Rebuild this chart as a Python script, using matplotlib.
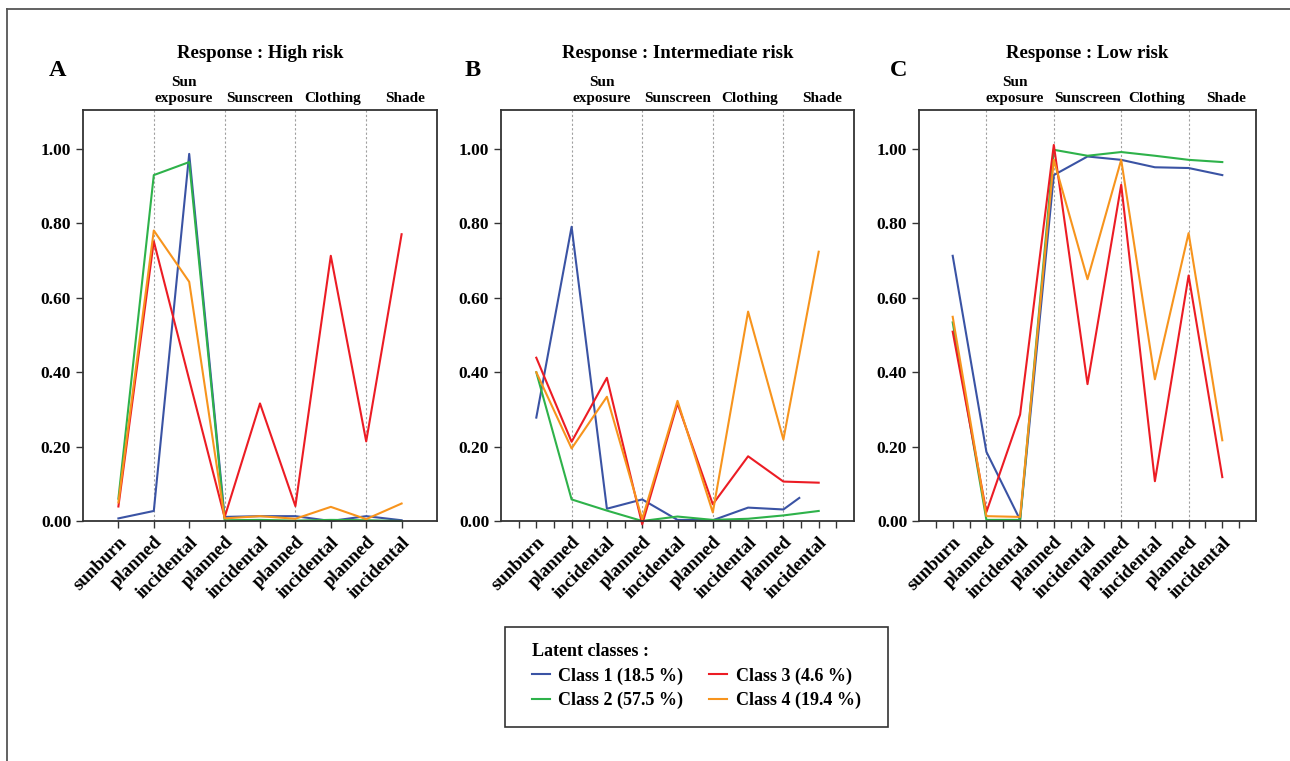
import matplotlib.pyplot as plt
from matplotlib.lines import Line2D
from matplotlib.patches import Rectangle
from matplotlib import transforms

plt.rcParams['font.family'] = ['Liberation Serif', 'DejaVu Serif']
plt.rcParams['font.weight'] = 'bold'

# categories along the x axis
categories = ['sunburn', 'planned', 'incidental', 'planned', 'incidental',
              'planned', 'incidental', 'planned', 'incidental']
groups = ['Sun\nexposure', 'Sunscreen', 'Clothing', 'Shade']
group_pos = [1.85, 4.0, 6.05, 8.1]
group_lines = [1, 3, 5, 7]

panels = ['A', 'B', 'C']
titles = ['Response : High risk', 'Response : Intermediate risk', 'Response : Low risk']

class_names = ['Class 1 (18.5 %)', 'Class 2 (57.5 %)', 'Class 3 (4.6 %)', 'Class 4 (19.4 %)']
colors = ['#3a53a4', '#2eb24a', '#ec1c24', '#f7941d']

# probabilities, one list per class, per panel
high_c1 = [0.007, 0.027, 0.987, 0.011, 0.013, 0.013, 0.0, 0.013, 0.002]
high_c2 = [0.06, 0.93, 0.965, 0.002, 0.003, 0.001, 0.003, 0.002, 0.0]
high_c3 = [0.039, 0.752, 0.38, 0.01, 0.316, 0.04, 0.713, 0.214, 0.771]
high_c4 = [0.05, 0.781, 0.643, 0.007, 0.013, 0.006, 0.038, 0.005, 0.047]

inter_c1 = [0.278, 0.791, 0.033, 0.058, 0.003, 0.002, 0.036, 0.031, 0.062]
inter_c2 = [0.40, 0.058, 0.028, 0.0, 0.012, 0.003, 0.006, 0.015, 0.027]
inter_c3 = [0.439, 0.213, 0.385, -0.009, 0.316, 0.045, 0.174, 0.106, 0.103]
inter_c4 = [0.40, 0.195, 0.334, 0.005, 0.323, 0.023, 0.563, 0.219, 0.724]

low_c1 = [0.713, 0.186, 0.003, 0.93, 0.98, 0.971, 0.951, 0.949, 0.93]
low_c2 = [0.534, 0.003, 0.003, 0.998, 0.982, 0.992, 0.982, 0.971, 0.965]
low_c3 = [0.509, 0.024, 0.286, 1.011, 0.368, 0.904, 0.107, 0.66, 0.118]
low_c4 = [0.549, 0.013, 0.011, 0.971, 0.65, 0.971, 0.381, 0.774, 0.217]

data = [[high_c1, high_c2, high_c3, high_c4],
        [inter_c1, inter_c2, inter_c3, inter_c4],
        [low_c1, low_c2, low_c3, low_c4]]

# the class 1 line in panel B stops short of the last category
inter_c1_x = [0, 1, 2, 3, 4, 5, 6, 7, 7.45]

yticks = [0.0, 0.2, 0.4, 0.6, 0.8, 1.0]

W, H = 1290, 761
fig = plt.figure(figsize=(W / 100, H / 100), dpi=100)

# axes boxes in pixels: left, right
boxes = [(83, 437), (501, 854), (919, 1256)]
top, bottom = 110, 521
letter_x = [58, 473, 899]

for k in range(3):
    l, r = boxes[k]
    ax = fig.add_axes([l / W, (H - bottom) / H, (r - l) / W, (bottom - top) / H])
    for g in group_lines:
        ax.axvline(g, color='#a0a0a0', lw=0.8, ls=(0, (2, 2)), zorder=0)
    for c in range(4):
        xs = list(range(len(categories)))
        if k == 1 and c == 0:
            xs = inter_c1_x
        ax.plot(xs, data[k][c], color=colors[c], lw=1.5, clip_on=False, zorder=2)
    ax.set_xlim(-1, 9)
    ax.set_ylim(0, 1.105)
    ax.set_yticks(yticks)
    ax.set_yticklabels([f'{v:.2f}' for v in yticks], fontsize=12.5, fontweight='bold')
    ax.set_xticks(range(len(categories)))
    ax.set_xticklabels(categories, rotation=45, ha='right', rotation_mode='anchor',
                       fontsize=13.5, fontweight='bold')
    if k > 0:
        ax.set_xticks([i - 0.5 for i in range(10)], minor=True)
    ax.tick_params(axis='both', which='both', direction='out', length=5, width=1.0,
                   color='#333333')
    ax.tick_params(axis='x', pad=4)
    for s in ax.spines.values():
        s.set_linewidth(1.3)
        s.set_color('#333333')
    ax.set_title(titles[k], fontsize=13.5, fontweight='bold', pad=0, y=1.0)
    ax.title.set_position((0.5, (bottom - 54) / (bottom - top)))
    ax.title.set_va('center')
    trans = transforms.blended_transform_factory(ax.transData, ax.transAxes)
    for gp, gname in zip(group_pos, groups):
        ax.text(gp, 1.012, gname, transform=trans, ha='center', va='bottom',
                fontsize=11, fontweight='bold', linespacing=1.3)
    fig.text(letter_x[k] / W, 1 - 70 / H, panels[k], fontsize=17.5, fontweight='bold',
             ha='center', va='center')

# legend box drawn by hand, legend itself without frame
fig.add_artist(Rectangle((505 / W, 1 - 727 / H), 383 / W, 100 / H, fill=False,
                         edgecolor='#333333', lw=1.2))
handles = [Line2D([], [], color=colors[c], lw=1.5) for c in range(4)]
leg = fig.legend(handles, class_names, ncol=2, loc='upper left',
                 bbox_to_anchor=(532 / W, 1 - 643 / H), borderaxespad=0,
                 title='Latent classes :', alignment='left',
                 fontsize=13, title_fontsize=13,
                 frameon=False, borderpad=0, handlelength=1.0,
                 handletextpad=0.45, columnspacing=1.45, labelspacing=0.4)
leg.get_title().set_fontweight('bold')

# outer frame lines (left and top only)
fig.add_artist(Line2D([7 / W, 7 / W], [0, 1 - 9 / H], color='#555555', lw=1.3))
fig.add_artist(Line2D([7 / W, 1], [1 - 9 / H, 1 - 9 / H], color='#555555', lw=1.3))

fig.savefig('out.png', dpi=100)
